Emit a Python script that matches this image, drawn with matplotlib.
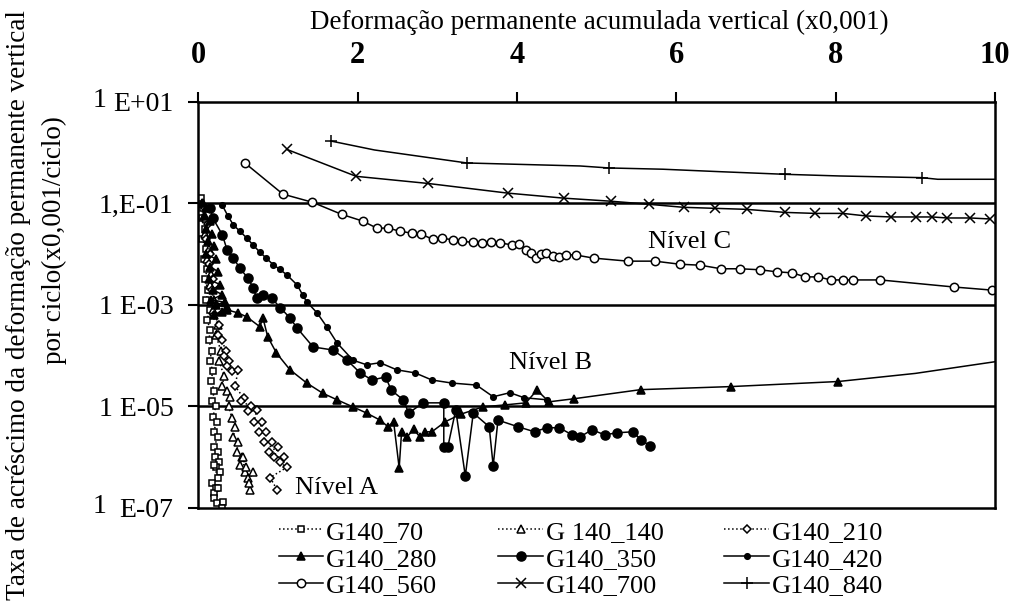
import numpy as np
import matplotlib.pyplot as plt
from matplotlib.transforms import offset_copy

plt.rcParams['font.family'] = ['Liberation Serif', 'DejaVu Serif']

# x = deformação permanente acumulada vertical (x0,001)
# ly = log10 da taxa de acréscimo por ciclo (lido no eixo log)
x_70 = [0.03, 0.06, 0.04, 0.08, 0.05, 0.09, 0.07, 0.11, 0.08, 0.12, 0.10, 0.14, 0.11,
        0.15, 0.13, 0.17, 0.14, 0.18, 0.16, 0.20, 0.17, 0.22, 0.18, 0.23, 0.19, 0.24,
        0.20, 0.25, 0.21, 0.26, 0.22, 0.27, 0.20, 0.24, 0.17, 0.22, 0.19, 0.25, 0.20,
        0.23, 0.31, 0.29]
ly_70 = [-0.9, -1.1, -1.3, -1.5, -1.7, -1.9, -2.1, -2.3, -2.5, -2.7, -2.9, -3.1, -3.3,
         -3.5, -3.7, -3.9, -4.1, -4.3, -4.5, -4.7, -4.9, -5.0, -5.2, -5.3, -5.5, -5.6,
         -5.8, -5.9, -6.0, -6.1, -6.2, -6.3, -6.16, -6.4, -6.5, -6.6, -6.7, -6.6, -6.8,
         -6.9, -6.88, -7.0]

x_140 = [0.06, 0.10, 0.08, 0.13, 0.11, 0.16, 0.14, 0.20, 0.18, 0.24, 0.22, 0.28, 0.26,
         0.32, 0.30, 0.36, 0.40, 0.38, 0.42, 0.46, 0.44, 0.50, 0.48, 0.55, 0.52, 0.58,
         0.56, 0.62, 0.60, 0.65, 0.63, 0.68]
ly_140 = [-1.0, -1.3, -1.6, -1.9, -2.1, -2.4, -2.6, -2.9, -3.1, -3.4, -3.6, -3.9, -4.1,
          -4.4, -4.6, -4.7, -4.81, -5.0, -5.23, -5.4, -5.6, -5.7, -5.9, -6.0, -6.16, -6.3,
          -6.0, -6.4, -6.2, -6.65, -6.5, -6.3]

x_210 = [0.08, 0.12, 0.10, 0.15, 0.13, 0.18, 0.17, 0.22, 0.20, 0.26, 0.25, 0.30, 0.34,
         0.32, 0.38, 0.36, 0.42, 0.50, 0.46, 0.57, 0.54, 0.66, 0.62, 0.73, 0.70, 0.80,
         0.76, 0.85, 0.82, 0.92, 0.88, 1.00, 0.95, 1.07, 1.02, 1.11, 0.90, 0.99]
ly_210 = [-1.1, -1.4, -1.7, -2.0, -2.2, -2.5, -2.7, -3.0, -3.2, -3.4, -3.6, -3.7, -3.9,
          -4.0, -4.1, -4.2, -4.3, -4.28, -4.6, -4.84, -4.9, -5.0, -5.1, -5.07, -5.3, -5.3,
          -5.5, -5.5, -5.7, -5.7, -5.9, -5.8, -6.0, -6.0, -6.1, -6.2, -6.4, -6.65]

x_280 = [0.05, 0.10, 0.07, 0.14, 0.09, 0.17, 0.12, 0.20, 0.10, 0.22, 0.15, 0.25, 0.13,
         0.27, 0.18, 0.30, 0.16, 0.33, 0.22, 0.36, 0.20, 0.30, 0.36, 0.50, 0.61, 0.77,
         0.81, 0.87, 0.98, 1.15, 1.36, 1.56, 1.74, 1.94, 2.11, 2.28, 2.38, 2.45, 2.52,
         2.55, 2.62, 2.70, 2.78, 2.85, 2.93, 3.10, 3.30, 3.57, 3.85, 4.11, 4.25, 4.40,
         4.71, 5.55, 6.68, 8.03, 9.00, 10.0]
ly_280 = [-1.0, -1.1, -1.25, -1.35, -1.5, -1.6, -1.75, -1.85, -2.0, -2.1, -2.25, -2.35,
          -2.5, -2.6, -2.7, -2.8, -2.9, -2.95, -3.0, -3.05, -3.2, -3.15, -3.10, -3.16,
          -3.24, -3.43, -3.26, -3.63, -3.95, -4.28, -4.54, -4.74, -4.87, -5.01, -5.13,
          -5.27, -5.40, -5.30, -6.21, -5.50, -5.60, -5.45, -5.60, -5.50, -5.50, -5.30,
          -5.15, -5.01, -4.97, -4.93, -4.68, -4.91, -4.85, -4.67, -4.61, -4.51, -4.35,
          -4.12]

x_350 = [0.15, 0.18, 0.30, 0.36, 0.44, 0.52, 0.62, 0.69, 0.73, 0.81, 0.92, 1.03, 1.15,
         1.24, 1.44, 1.69, 1.86, 2.03, 2.18, 2.35, 2.42, 2.57, 2.64, 2.82, 3.08, 3.08,
         3.13, 3.23, 3.35, 3.45, 3.65, 3.70, 3.76, 4.01, 4.22, 4.37, 4.53, 4.69, 4.79,
         4.94, 5.10, 5.25, 5.45, 5.56, 5.67]
ly_350 = [-1.10, -1.29, -1.62, -1.92, -2.08, -2.28, -2.47, -2.67, -2.87, -2.81, -2.87,
          -3.06, -3.26, -3.46, -3.83, -3.89, -4.08, -4.34, -4.48, -4.42, -4.68, -4.87,
          -5.13, -4.93, -4.93, -5.80, -5.80, -5.07, -6.37, -5.13, -5.40, -6.17, -5.27,
          -5.40, -5.50, -5.42, -5.42, -5.56, -5.60, -5.46, -5.56, -5.52, -5.50, -5.66, -5.78]

x_420 = [0.30, 0.37, 0.44, 0.52, 0.61, 0.69, 0.77, 0.85, 0.94, 1.02, 1.11, 1.24, 1.31,
         1.36, 1.49, 1.61, 1.74, 1.94, 2.11, 2.28, 2.49, 2.72, 2.93, 3.18, 3.49, 3.70,
         3.91, 4.09, 4.38]
ly_420 = [-1.04, -1.25, -1.43, -1.55, -1.69, -1.83, -1.96, -2.08, -2.21, -2.30, -2.41,
          -2.61, -2.81, -2.94, -3.16, -3.43, -3.75, -4.09, -4.18, -4.14, -4.28, -4.34,
          -4.48, -4.54, -4.58, -4.81, -4.73, -4.83, -4.87]

x_560 = [0.59, 1.06, 1.43, 1.80, 2.06, 2.24, 2.38, 2.53, 2.68, 2.80, 2.94, 3.06, 3.20,
         3.31, 3.45, 3.56, 3.67, 3.78, 3.94, 4.03, 4.11, 4.18, 4.24, 4.30, 4.36, 4.45,
         4.53, 4.62, 4.74, 4.96, 5.39, 5.73, 6.04, 6.30, 6.56, 6.80, 7.05, 7.26, 7.45,
         7.62, 7.78, 7.94, 8.09, 8.22, 8.56, 9.49, 9.96]
ly_560 = [-0.216, -0.82, -0.98, -1.22, -1.35, -1.49, -1.49, -1.55, -1.59, -1.61, -1.71,
          -1.69, -1.72, -1.75, -1.77, -1.78, -1.76, -1.78, -1.82, -1.80, -1.92, -1.97,
          -2.08, -2.00, -1.98, -2.04, -2.06, -2.01, -2.02, -2.08, -2.14, -2.14, -2.20,
          -2.22, -2.29, -2.29, -2.31, -2.35, -2.37, -2.45, -2.45, -2.51, -2.51, -2.51,
          -2.51, -2.65, -2.71]

x_700 = [1.11, 1.98, 2.88, 3.88, 4.59, 5.18, 5.65, 6.09, 6.48, 6.88, 7.36, 7.74, 8.09,
         8.38, 8.69, 9.01, 9.21, 9.40, 9.69, 9.94]
ly_700 = [0.06, -0.47, -0.61, -0.80, -0.90, -0.96, -1.02, -1.08, -1.10, -1.12, -1.18,
          -1.20, -1.20, -1.25, -1.27, -1.27, -1.27, -1.29, -1.29, -1.31]

x_840 = [1.66, 2.21, 3.37, 4.79, 5.15, 5.83, 6.54, 7.36, 8.05, 9.08, 9.28, 10.0]
ly_840 = [0.226, 0.049, -0.207, -0.266, -0.305, -0.33, -0.378, -0.43, -0.463, -0.496,
          -0.528, -0.528]

labels = ['G140_70', 'G 140_140', 'G140_210', 'G140_280', 'G140_350', 'G140_420',
          'G140_560', 'G140_700', 'G140_840']
x_ticks = [0, 2, 4, 6, 8, 10]
y_ticks = [1e1, 1e-1, 1e-3, 1e-5, 1e-7]
y_ticklabels = ['', '1,E-01', '1 E-03', '1 E-05', '']
# top and bottom labels have the leading "1" set a little higher
raised_labels = [(1e1, 'E+01'), (1e-7, 'E-07')]

styles = [
    dict(ls=':', marker='s', mfc='white', ms=5),
    dict(ls=':', marker='^', mfc='white', ms=5.5),
    dict(ls=':', marker='D', mfc='white', ms=4.5),
    dict(ls='-', marker='^', mfc='k', ms=6, markevery=slice(0, -2)),
    dict(ls='-', marker='o', mfc='k', ms=6.5),
    dict(ls='-', marker='o', mfc='k', ms=4),
    dict(ls='-', marker='o', mfc='white', ms=6),
    dict(ls='-', marker='x', mfc='k', ms=6.5),
    dict(ls='-', marker='+', mfc='k', ms=8, markevery=[0, 2, 4, 7, 9]),
]
data = [(x_70, ly_70), (x_140, ly_140), (x_210, ly_210), (x_280, ly_280),
        (x_350, ly_350), (x_420, ly_420), (x_560, ly_560), (x_700, ly_700),
        (x_840, ly_840)]

fig = plt.figure(figsize=(10.16, 6.11), dpi=100)
ax = fig.add_axes([0.1953, 0.1686, 0.7841, 0.6650])

handles = []
for (xs, ly), lab, st in zip(data, labels, styles):
    h, = ax.plot(xs, 10.0 ** np.array(ly), color='k', lw=1.1, mec='k', mew=1.1,
                 label=lab, **st)
    handles.append(h)

for v in [1e-1, 1e-3, 1e-5]:
    ax.axhline(v, color='k', lw=1.8, zorder=0.5)

ax.set_yscale('log')
ax.set_xlim(0, 10)
ax.set_ylim(1e-7, 1e1)
ax.xaxis.tick_top()
ax.set_xticks(x_ticks)
ax.set_xticklabels([str(t) for t in x_ticks], fontsize=22, fontweight='bold')
ax.set_yticks(y_ticks)
ax.set_yticklabels(y_ticklabels, fontsize=20)
ax.yaxis.set_minor_locator(plt.NullLocator())
ax.tick_params(axis='x', direction='out', length=7, width=1.5, pad=16)
ax.tick_params(axis='y', direction='out', length=7, width=1.5, pad=11)
for sp in ax.spines.values():
    sp.set_linewidth(1.8)

ytr = ax.get_yaxis_transform()
for yv, txt in raised_labels:
    ax.text(0, yv, txt, fontsize=20, ha='right', va='center_baseline', clip_on=False,
            transform=offset_copy(ytr, fig=fig, x=-25, y=0, units='dots'))
    ax.text(0, yv, '1', fontsize=20, ha='right', va='center_baseline', clip_on=False,
            transform=offset_copy(ytr, fig=fig, x=-92, y=4, units='dots'))

ax.text(1.21, 10 ** -6.60, 'Nível A', fontsize=19, va='center')
ax.text(3.90, 10 ** -4.15, 'Nível B', fontsize=19, va='center')
ax.text(5.64, 10 ** -1.76, 'Nível C', fontsize=19, va='center')

order = [0, 3, 6, 1, 4, 7, 2, 5, 8]
ax.legend([handles[i] for i in order], [labels[i] for i in order], ncol=3,
          frameon=False, fontsize=19, loc='upper center', bbox_to_anchor=(0.480, -0.03),
          handlelength=1.7, handletextpad=0.1, columnspacing=2.3, labelspacing=0.13,
          borderaxespad=0, borderpad=0)

fig.text(0.59, 1 - 22 / 611, 'Deformação permanente acumulada vertical (x0,001)',
         ha='center', va='center', fontsize=19.5)
fig.text(19 / 1016, 1 - 305 / 611, 'Taxa de acréscimo da deformação permanente vertical',
         rotation=90, ha='center', va='center', fontsize=19.5)
fig.text(54 / 1016, 1 - 240 / 611, 'por ciclo(x0,001/ciclo)',
         rotation=90, ha='center', va='center', fontsize=19.5)

fig.savefig('out.png', dpi=100)
